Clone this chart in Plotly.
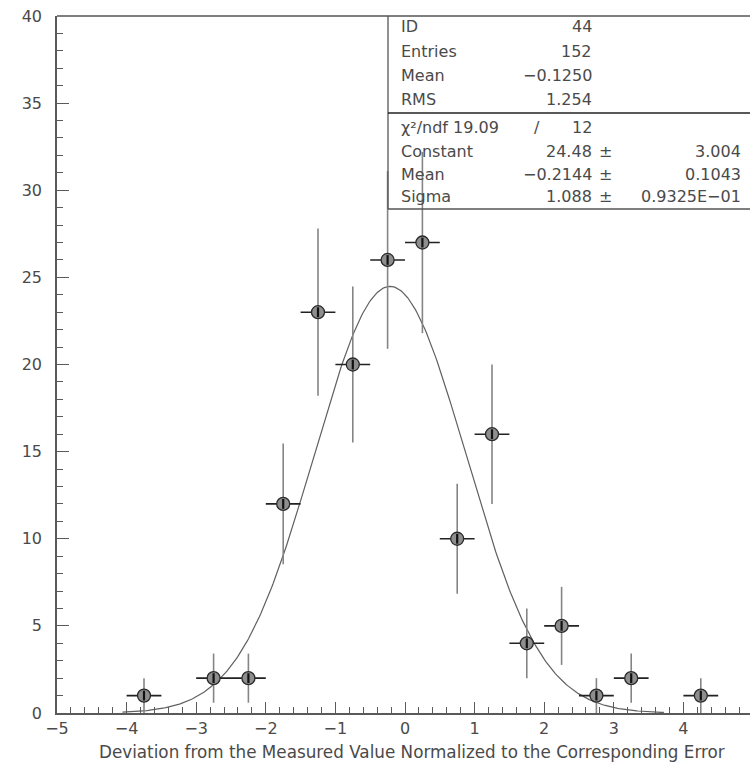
import numpy as np
import plotly.graph_objects as go

# ---- data ----
bin_centers = [-3.75, -2.75, -2.25, -1.75, -1.25, -0.75, -0.25, 0.25, 0.75, 1.25, 1.75, 2.25, 2.75, 3.25, 4.25]
bin_counts = [1, 2, 2, 12, 23, 20, 26, 27, 10, 16, 4, 5, 1, 2, 1]
count_errors = [1.0, 1.41, 1.41, 3.46, 4.80, 4.47, 5.10, 5.20, 3.16, 4.0, 2.0, 2.24, 1.0, 1.41, 1.0]
half_bin = [0.25] * len(bin_centers)

fit_constant = 24.48
fit_mean = -0.2144
fit_sigma = 1.088
fit_range = [-4.06, 3.72]

x_ticks = [-5, -4, -3, -2, -1, 0, 1, 2, 3, 4]
y_ticks = [0, 5, 10, 15, 20, 25, 30, 35, 40]

stat_labels = ["ID", "Entries", "Mean", "RMS"]
stat_values = ["44", "152", "\u22120.1250", "1.254"]
chi2_text = ["\u03c7\u00b2/ndf 19.09", "/", "12"]
fit_labels = ["Constant", "Mean", "Sigma"]
fit_values = ["24.48", "\u22120.2144", "1.088"]
fit_errors = ["3.004", "0.1043", "0.9325E\u221201"]

x_title = "Deviation from the Measured Value Normalized to the Corresponding Error"

# ---- layout geometry (pixels) ----
W, H = 750, 764
L, R, T, B = 57, 0, 16, 51
PW, PH = W - L - R, H - T - B
UNIT_X = 69.6
x_max = -5 + PW / UNIT_X


def px(x):
    return (x - L) / PW


def py(y):
    return (H - B - y) / PH


FONT = "DejaVu Sans"
TXT = "#4a4a4a"
AX = "#5a5a5a"

xf = np.linspace(fit_range[0], fit_range[1], 400)
yf = fit_constant * np.exp(-0.5 * ((xf - fit_mean) / fit_sigma) ** 2)

fig = go.Figure()
fig.add_trace(go.Scatter(x=xf, y=yf, mode="lines", line=dict(color="#606060", width=1.2),
                         hoverinfo="skip", showlegend=False))
fig.add_trace(go.Scatter(
    x=bin_centers, y=bin_counts, mode="markers",
    error_y=dict(type="data", array=count_errors, color="#858585", thickness=1.6, width=0),
    error_x=dict(type="data", array=half_bin, color="#222222", thickness=1.6, width=0),
    marker=dict(symbol="circle", size=13, color="#8e8e8e", line=dict(color="#2a2a2a", width=1.3)),
    showlegend=False))
fig.add_trace(go.Scatter(
    x=bin_centers, y=bin_counts, mode="markers",
    marker=dict(symbol="line-ns-open", size=7, color="#111111", line=dict(width=2.2)),
    showlegend=False, hoverinfo="skip"))

shapes = []
box_left = px(388)
shapes.append(dict(type="line", xref="paper", yref="paper", x0=0, x1=1, y0=1, y1=1,
                   line=dict(color="#555555", width=1.5)))
shapes.append(dict(type="line", xref="paper", yref="paper", x0=box_left, x1=box_left, y0=py(16), y1=py(209),
                   line=dict(color="#555555", width=1.3)))
shapes.append(dict(type="line", xref="paper", yref="paper", x0=box_left, x1=1, y0=py(113), y1=py(113),
                   line=dict(color="#222222", width=1.6)))
shapes.append(dict(type="line", xref="paper", yref="paper", x0=box_left, x1=1, y0=py(209), y1=py(209),
                   line=dict(color="#555555", width=1.3)))

ann = []


def txt(x, y, s, anchor="left", size=16, color=TXT):
    ann.append(dict(x=px(x), y=py(y), xref="paper", yref="paper", text=s, showarrow=False,
                    xanchor=anchor, yanchor="middle", font=dict(family=FONT, size=size, color=color)))


row_y = [27, 52, 76, 99]
for lab, val, yy in zip(stat_labels, stat_values, row_y):
    txt(399, yy, lab)
    txt(594, yy, val, "right")
txt(399, 128, chi2_text[0])
txt(537, 128, chi2_text[1], "center")
txt(594, 128, chi2_text[2], "right")
for lab, val, err, yy in zip(fit_labels, fit_values, fit_errors, [151, 174, 197]):
    txt(399, yy, lab)
    txt(594, yy, val, "right")
    txt(597, yy, "\u00b1", "left")
    txt(743, yy, err, "right")

ann.append(dict(x=px(97), y=py(752), xref="paper", yref="paper", text=x_title, showarrow=False,
                xanchor="left", yanchor="middle", font=dict(family=FONT, size=16.8, color=TXT)))

fig.update_layout(
    width=W, height=H, margin=dict(l=L, r=R, t=T, b=B),
    paper_bgcolor="white", plot_bgcolor="white",
    shapes=shapes, annotations=ann,
    xaxis=dict(range=[-5, x_max], tickvals=x_ticks,
               ticks="inside", ticklen=11, tickwidth=1.3, tickcolor=AX,
               minor=dict(dtick=0.2, ticks="inside", ticklen=6, tickwidth=1, tickcolor=AX),
               showgrid=False, zeroline=False, showline=True, linecolor=AX, linewidth=1.5, mirror=False,
               tickfont=dict(family=FONT, size=16, color=TXT)),
    yaxis=dict(range=[0, 40], tickvals=y_ticks,
               ticks="inside", ticklen=12, tickwidth=1.3, tickcolor=AX,
               minor=dict(dtick=1, ticks="inside", ticklen=6, tickwidth=1, tickcolor=AX),
               showgrid=False, zeroline=False, showline=True, linecolor=AX, linewidth=1.5, mirror=False,
               ticklabelstandoff=10,
               tickfont=dict(family=FONT, size=16, color=TXT)),
)

fig.write_html("out.html")
